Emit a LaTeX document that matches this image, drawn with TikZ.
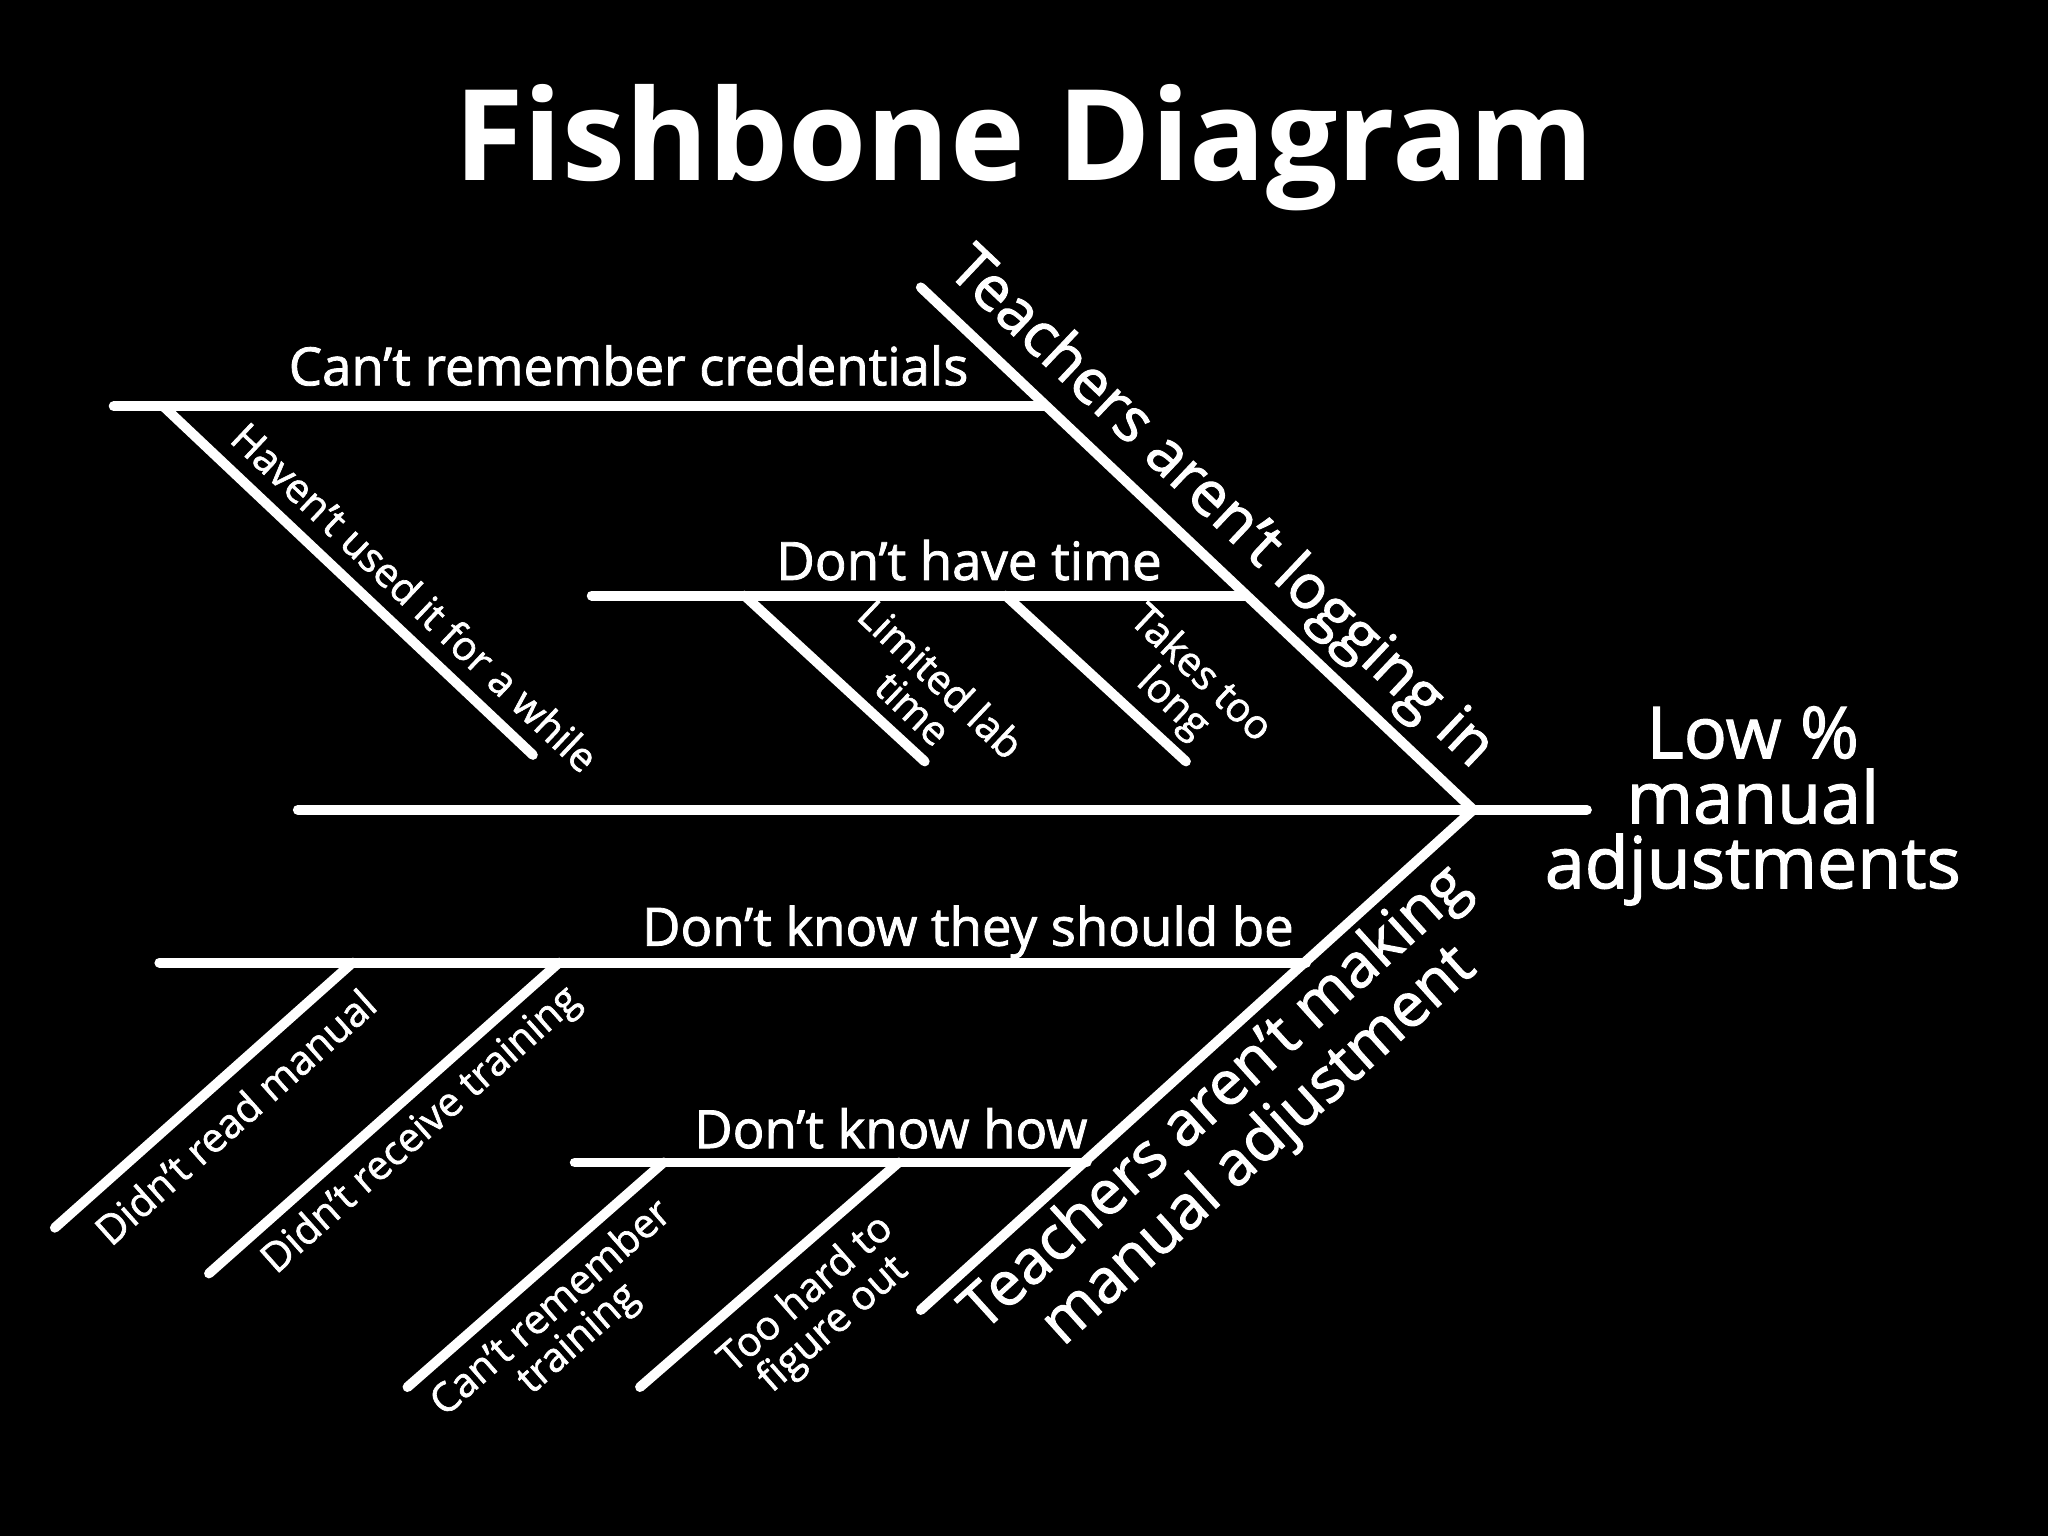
\documentclass[tikz,border=0pt]{standalone}
\usepackage{fontspec}
\setmainfont{Open Sans}
\newfontfamily\heavy{Open Sans}[FakeBold=1.6]
\usepackage{tikz}
\usepackage{tkz-euclide}

\begin{document}
\begin{tikzpicture}[x=0.01306cm, y=-0.01306cm,
    bone/.style={line width=2.8pt, white},
    headline/.style={text=white, inner sep=0pt, font=\bfseries\fontsize{36}{40}\selectfont},
    catlabel/.style={text=white, inner sep=0pt, anchor=base east, font=\heavy\fontsize{15}{16}\selectfont},
    biglabel/.style={text=white, inner sep=0pt, align=center, font=\heavy\fontsize{17.5}{18.3}\selectfont},
    sublabel/.style={text=white, inner sep=0pt, align=center, font=\heavy\fontsize{11.5}{11.5}\selectfont},
    effect/.style={text=white, inner sep=0pt, align=center, font=\heavy\fontsize{20.4}{18.5}\selectfont}]
    \useasboundingbox (0,0) rectangle (1568,1176);
    \fill[black] (0,0) rectangle (1568,1176);

    % --- 1. 標題 ---
    \node[headline, anchor=base] (title) at (784,138) {Fishbone Diagram};

    % --- 2. 主骨與魚頭 ---
    \tkzDefPoint(228,620){T}
    \tkzDefPoint(1128,620){H}
    \tkzDefPoint(1215,620){E}
    \tkzDefPoint(705,220){U}
    \tkzDefPoint(705,1003){L}
    \tkzDrawSegments[bone](T,E U,H L,H)

    % --- 3. 上方分支 ---
    \tkzDefPoint(87,311){Pa}
    \tkzDefPoint(800,311){Pb}
    \tkzDefPoint(453,456){Qa}
    \tkzDefPoint(953,456){Qb}
    \tkzDefPoint(125,311){Sa} \tkzDefPoint(408,578){Sb}
    \tkzDefPoint(570,456){Ra} \tkzDefPoint(708,583){Rb}
    \tkzDefPoint(770,456){Ka} \tkzDefPoint(908,583){Kb}
    \tkzDrawSegments[bone](Pa,Pb Qa,Qb Sa,Sb Ra,Rb Ka,Kb)

    % --- 4. 下方分支 ---
    \tkzDefPoint(122,737){Ma}
    \tkzDefPoint(1000,737){Mb}
    \tkzDefPoint(440,890){Na}
    \tkzDefPoint(832,890){Nb}
    \tkzDefPoint(270,737){Da} \tkzDefPoint(42,940){Db}
    \tkzDefPoint(428,737){Ga} \tkzDefPoint(160,975){Gb}
    \tkzDefPoint(508,890){Ca} \tkzDefPoint(312,1062){Cb}
    \tkzDefPoint(688,890){Fa} \tkzDefPoint(490,1062){Fb}
    \tkzDrawSegments[bone](Ma,Mb Na,Nb Da,Db Ga,Gb Ca,Cb Fa,Fb)

    % --- 5. 標籤 ---
    \node[catlabel] (cred) at (742,295) {Can’t remember credentials};
    \node[catlabel] (time) at (890,444) {Don’t have time};
    \node[catlabel] (should) at (991,724) {Don’t know they should be};
    \node[catlabel] (how) at (833,879) {Don’t know how};

    \node[biglabel, rotate=-43.4] (login) at (934,390) {Teachers aren’t logging in};
    \node[biglabel, rotate=42.2] (making) at (948,860) {Teachers aren’t making\\manual adjustment};

    \node[sublabel, rotate=-43.4] (unused) at (318,457) {Haven’t used it for a while};
    \node[sublabel, rotate=-43.4] (lab) at (710,531) {Limited lab\\time};
    \node[sublabel, rotate=-43.4] (long) at (908,528) {Takes too\\long};
    \node[sublabel, rotate=41.7] (manual) at (180,855) {Didn’t read manual};
    \node[sublabel, rotate=41.7] (training) at (323,866) {Didn’t receive training};
    \node[sublabel, rotate=41.3] (forgot) at (433,1014) {Can’t remember\\training};
    \node[sublabel, rotate=41.3] (hard) at (628,1003) {Too hard to\\figure out};

    \node[effect] (low) at (1342,617) {Low \%\\manual\\adjustments};
\end{tikzpicture}
\end{document}
